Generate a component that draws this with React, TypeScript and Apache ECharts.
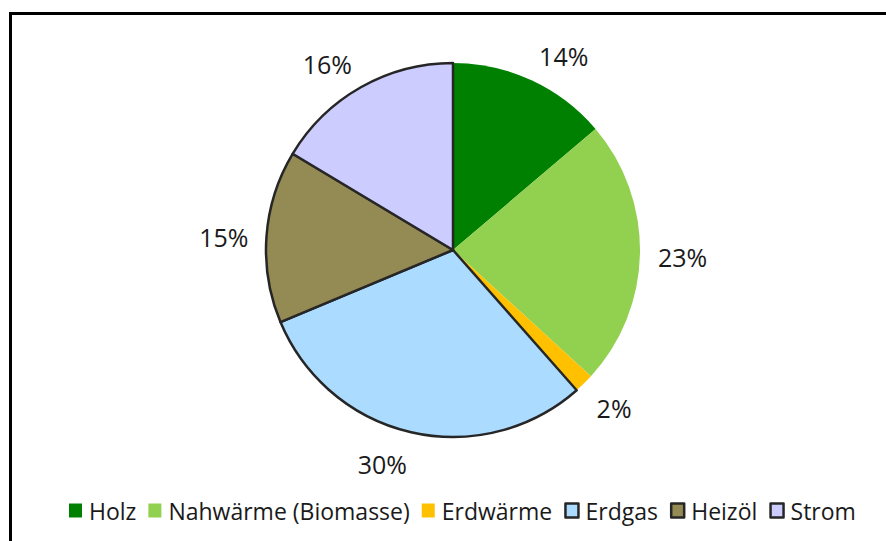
import React, { useEffect, useRef } from "react";
import * as echarts from "echarts";

const categories = ["Holz", "Nahwärme (Biomasse)", "Erdwärme", "Erdgas", "Heizöl", "Strom"];
const values = [13.8, 23.0, 1.7, 30.2, 14.9, 16.4];
const colors = ["#008000", "#92D050", "#FFC000", "#ABDBFF", "#948A54", "#CCCCFF"];
const bordered = [false, false, false, true, true, true];

export default function App() {
  const ref = useRef<HTMLDivElement>(null);
  useEffect(() => {
    document.body.style.margin = "0";
    const chart = echarts.init(ref.current!, null, { renderer: "svg" });
    const font = "'Open Sans', 'Noto Sans', sans-serif";
    const total = values.reduce((a, b) => a + b, 0);
    const midAngles: number[] = [];
    let acc = 0;
    values.forEach((v) => {
      midAngles.push(((acc + v / 2) / total) * Math.PI * 2);
      acc += v;
    });
    chart.setOption({
      animation: false,
      backgroundColor: "#ffffff",
      graphic: [
        {
          type: "rect",
          shape: { x: 10.5, y: 13.5, width: 1000, height: 1000 },
          style: { fill: "none", stroke: "#000000", lineWidth: 3 },
          silent: true,
          z: 100,
        },
      ],
      legend: {
        bottom: 14,
        left: 64,
        icon: "rect",
        itemWidth: 13,
        itemHeight: 14,
        itemGap: 12,
        selectedMode: false,
        itemStyle: { borderWidth: 0 },
        textStyle: { fontFamily: font, fontSize: 23, color: "#1a1a1a", padding: [0, 0, 0, 2] },
        data: categories.map((name, i) => ({
          name,
          itemStyle: bordered[i]
            ? { color: colors[i], borderColor: "#262626", borderWidth: 2.5, borderType: "solid" }
            : { color: colors[i], borderWidth: 0 },
        })),
      },
      series: [
        {
          type: "pie",
          center: [453, 250],
          radius: [0, 187],
          startAngle: 90,
          clockwise: true,
          avoidLabelOverlap: false,
          label: {
            show: true,
            position: "outside",
            fontFamily: font,
            fontSize: 25,
            color: "#1a1a1a",
            formatter: (p: any) => Math.round(p.value) + "%",
            distanceToLabelLine: 0,
          },
          labelLine: { show: false, length: 18, length2: 0 },
          labelLayout: (params: any) => {
            const a = midAngles[params.dataIndex];
            return { dy: -12 * Math.cos(a) + 3 };
          },
          data: categories.map((name, i) => ({
            name,
            value: values[i],
            itemStyle: {
              color: colors[i],
              borderColor: bordered[i] ? "#262626" : colors[i],
              borderWidth: bordered[i] ? 2.5 : 0,
            },
          })),
        },
      ],
    });
    return () => chart.dispose();
  }, []);
  return <div ref={ref} style={{ width: 886, height: 541 }} />;
}
